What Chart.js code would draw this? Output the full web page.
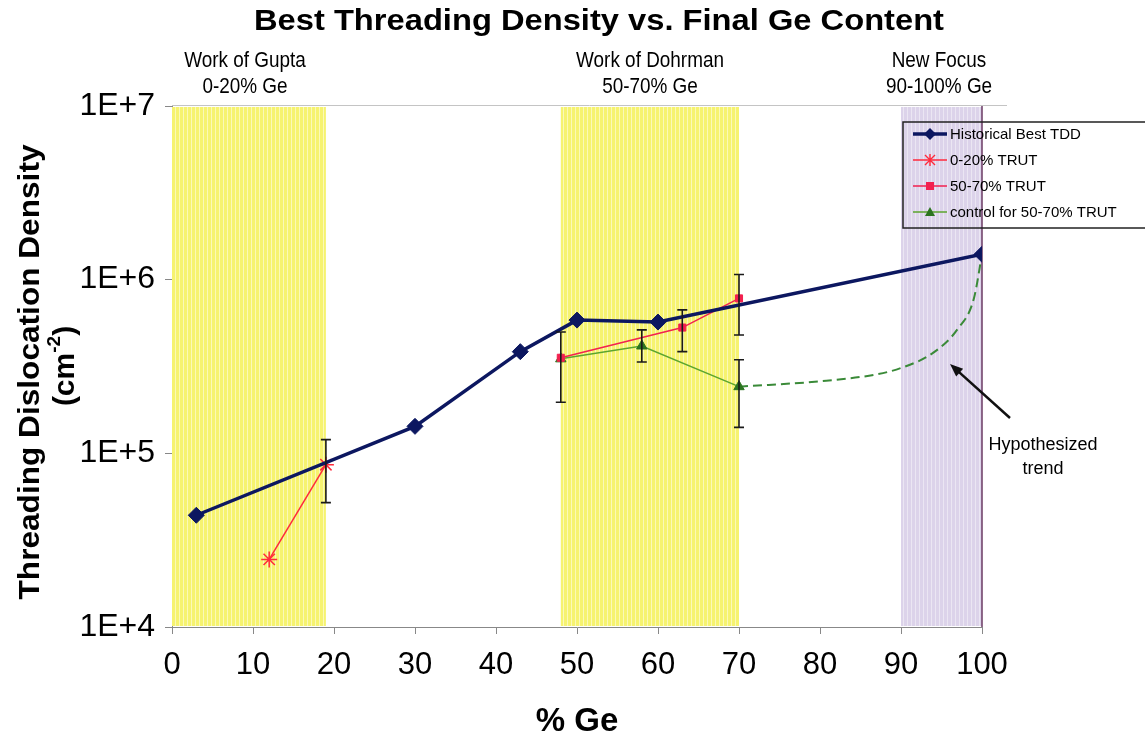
<!DOCTYPE html>
<html>
<head>
<meta charset="utf-8">
<script src="https://cdn.jsdelivr.net/npm/chart.js@4/dist/chart.umd.min.js"></script>
<style>
  html, body { margin: 0; padding: 0; background: #ffffff; }
  #wrap { width: 1145px; height: 740px; position: relative; }
</style>
</head>
<body>
<div id="wrap"><canvas id="c" width="1145" height="740"></canvas></div>
<script>
// ---- data ----
const histX = [3, 30, 43, 50, 60, 100];
const histY = [4.4e4, 1.43e5, 3.85e5, 5.85e5, 5.7e5, 1.4e6];

const trut020X = [12, 19];
const trut020Y = [2.45e4, 8.6e4];

const trut5070X = [48, 63, 70];
const trut5070Y = [3.55e5, 5.3e5, 7.8e5];

const controlX = [48, 58, 70];
const controlY = [3.5e5, 4.15e5, 2.42e5];

// hypothesized trend
const trendX = [70, 80, 87, 90, 94, 97, 99, 100];
const trendY = [2.42e5, 2.6e5, 2.85e5, 3.1e5, 3.8e5, 5.2e5, 7.8e5, 1.4e6];

// error bars: x, low, high
const errX = [19, 48, 58, 63, 70, 70];
const errLow = [5.2e4, 1.97e5, 3.36e5, 3.85e5, 4.8e5, 1.41e5];
const errHigh = [1.2e5, 5.0e5, 5.14e5, 6.7e5, 1.07e6, 3.46e5];

// shaded composition ranges
const bandStart = [0, 48, 90];
const bandEnd = [19, 70, 100];
const bandKind = ['yellow', 'yellow', 'purple'];
const bandTitle = ['Work of Gupta', 'Work of Dohrman', 'New Focus'];
const bandRange = ['0-20% Ge', '50-70% Ge', '90-100% Ge'];

const yTickValues = [1e4, 1e5, 1e6, 1e7];
const yTickLabels = ['1E+4', '1E+5', '1E+6', '1E+7'];

const legendLabels = ['Historical Best TDD', '0-20% TRUT', '50-70% TRUT', 'control for 50-70% TRUT'];

const FONT = '"Liberation Sans", Arial, sans-serif';
const NAVY = '#0c1760';
const RED = '#ff2a3c';
const PINK = '#f2204f';
const GREEN_LINE = '#5ba52e';
const GREEN_MARK = '#2c7420';
const GREEN_DASH = '#3a8a38';

function pts(xs, ys) { return xs.map((x, i) => ({ x: x, y: ys[i] })); }

function stripePattern(ctx, base, stripe) {
  const p = document.createElement('canvas');
  p.width = 4; p.height = 4;
  const g = p.getContext('2d');
  g.fillStyle = base; g.fillRect(0, 0, 4, 4);
  g.fillStyle = stripe; g.fillRect(3, 0, 1, 4);
  return ctx.createPattern(p, 'repeat');
}

// draw text centred at (0,0) of the current transform, stretched to a given width
function fitText(ctx, text, width) {
  const w = ctx.measureText(text).width;
  ctx.save();
  ctx.scale(width / w, 1);
  ctx.fillText(text, 0, 0);
  ctx.restore();
}

const bandsPlugin = {
  id: 'bands',
  beforeDatasetsDraw(chart) {
    const { ctx, chartArea: a, scales: { x } } = chart;
    ctx.save();
    const yellow = stripePattern(ctx, '#f6f370', '#fbf9b8');
    const purple = stripePattern(ctx, '#dcd3ea', '#ebe6f3');
    for (let i = 0; i < bandStart.length; i++) {
      const x0 = x.getPixelForValue(bandStart[i]);
      const x1 = x.getPixelForValue(bandEnd[i]);
      ctx.fillStyle = bandKind[i] === 'yellow' ? yellow : purple;
      ctx.fillRect(x0, a.top + 1, x1 - x0, a.bottom - a.top - 2);
    }
    // right edge of the last band
    const xr = x.getPixelForValue(bandEnd[2]);
    ctx.strokeStyle = '#6b3a63';
    ctx.lineWidth = 1.5;
    ctx.beginPath(); ctx.moveTo(xr, a.top); ctx.lineTo(xr, a.bottom); ctx.stroke();
    // faint top border
    ctx.strokeStyle = '#c4c4c4';
    ctx.lineWidth = 1;
    ctx.beginPath(); ctx.moveTo(a.left, a.top - 0.5); ctx.lineTo(xr + 25, a.top - 0.5); ctx.stroke();
    ctx.restore();
  }
};

const errorBarPlugin = {
  id: 'errbars',
  afterDatasetsDraw(chart) {
    const { ctx, scales: { x, y } } = chart;
    ctx.save();
    ctx.strokeStyle = '#1a1a1a';
    ctx.lineWidth = 1.6;
    for (let i = 0; i < errX.length; i++) {
      const px = x.getPixelForValue(errX[i]);
      const yl = y.getPixelForValue(errLow[i]);
      const yh = y.getPixelForValue(errHigh[i]);
      ctx.beginPath();
      ctx.moveTo(px, yl); ctx.lineTo(px, yh);
      ctx.moveTo(px - 5, yl); ctx.lineTo(px + 5, yl);
      ctx.moveTo(px - 5, yh); ctx.lineTo(px + 5, yh);
      ctx.stroke();
    }
    ctx.restore();
  }
};

function drawMarker(ctx, style, cx, cy, color) {
  ctx.save();
  ctx.fillStyle = color; ctx.strokeStyle = color;
  if (style === 'rectRot') {
    ctx.beginPath();
    ctx.moveTo(cx, cy - 6); ctx.lineTo(cx + 6, cy); ctx.lineTo(cx, cy + 6); ctx.lineTo(cx - 6, cy);
    ctx.closePath(); ctx.fill();
  } else if (style === 'star') {
    ctx.lineWidth = 1.4;
    ctx.beginPath();
    ctx.moveTo(cx - 5, cy - 5); ctx.lineTo(cx + 5, cy + 5);
    ctx.moveTo(cx + 5, cy - 5); ctx.lineTo(cx - 5, cy + 5);
    ctx.moveTo(cx, cy - 6); ctx.lineTo(cx, cy + 6);
    ctx.stroke();
  } else if (style === 'rect') {
    ctx.fillRect(cx - 4, cy - 4, 8, 8);
  } else if (style === 'triangle') {
    ctx.beginPath();
    ctx.moveTo(cx, cy - 5); ctx.lineTo(cx + 5, cy + 4); ctx.lineTo(cx - 5, cy + 4);
    ctx.closePath(); ctx.fill();
  }
  ctx.restore();
}

const textPlugin = {
  id: 'texts',
  afterDraw(chart) {
    const { ctx } = chart;
    ctx.save();
    ctx.fillStyle = '#000';
    ctx.textAlign = 'center';
    ctx.textBaseline = 'middle';

    // main title
    ctx.save();
    ctx.translate(599, 22);
    ctx.font = 'bold 30px ' + FONT;
    fitText(ctx, 'Best Threading Density vs. Final Ge Content', 690);
    ctx.restore();

    // band captions (slightly condensed)
    const capCenters = [245, 650, 939];
    ctx.font = '22px ' + FONT;
    for (let i = 0; i < bandTitle.length; i++) {
      ctx.save();
      ctx.translate(capCenters[i], 0);
      ctx.scale(0.86, 1);
      ctx.fillText(bandTitle[i], 0, 61);
      ctx.fillText(bandRange[i], 0, 87);
      ctx.restore();
    }

    // y axis title
    ctx.save();
    ctx.translate(31, 372);
    ctx.rotate(-Math.PI / 2);
    ctx.font = 'bold 30px ' + FONT;
    fitText(ctx, 'Threading Dislocation Density', 455);
    ctx.restore();
    ctx.save();
    ctx.translate(66, 366);
    ctx.rotate(-Math.PI / 2);
    ctx.font = 'bold 30px ' + FONT;
    ctx.textAlign = 'left';
    const w1 = ctx.measureText('(cm').width;
    ctx.font = 'bold 19px ' + FONT;
    const w2 = ctx.measureText('-2').width;
    ctx.font = 'bold 30px ' + FONT;
    const w3 = ctx.measureText(')').width;
    const sx = -(w1 + w2 + w3) / 2;
    ctx.fillText('(cm', sx, 0);
    ctx.font = 'bold 19px ' + FONT;
    ctx.fillText('-2', sx + w1, -11);
    ctx.font = 'bold 30px ' + FONT;
    ctx.fillText(')', sx + w1 + w2, 0);
    ctx.restore();

    // x axis title
    ctx.font = 'bold 33px ' + FONT;
    ctx.fillText('% Ge', 577, 722);

    // hypothesized trend note + arrow
    ctx.font = '18px ' + FONT;
    ctx.fillText('Hypothesized', 1043, 445);
    ctx.fillText('trend', 1043, 469);
    ctx.strokeStyle = '#111';
    ctx.lineWidth = 2.5;
    const ax0 = 1010, ay0 = 418, ax1 = 950, ay1 = 364;
    ctx.beginPath(); ctx.moveTo(ax0, ay0); ctx.lineTo(ax1 + 6, ay1 + 5.4); ctx.stroke();
    const ang = Math.atan2(ay1 - ay0, ax1 - ax0);
    ctx.fillStyle = '#111';
    ctx.beginPath();
    ctx.moveTo(ax1, ay1);
    ctx.lineTo(ax1 - 14 * Math.cos(ang - 0.38), ay1 - 14 * Math.sin(ang - 0.38));
    ctx.lineTo(ax1 - 14 * Math.cos(ang + 0.38), ay1 - 14 * Math.sin(ang + 0.38));
    ctx.closePath(); ctx.fill();

    // legend
    const lx = 903, ly = 122, lw = 260, lh = 106;
    ctx.strokeStyle = '#222';
    ctx.lineWidth = 1.5;
    ctx.strokeRect(lx, ly, lw, lh);
    const ds = chart.data.datasets;
    ctx.textAlign = 'left';
    ctx.font = '15px ' + FONT;
    [0, 1, 2, 3].forEach((di, r) => {
      const d = ds[di];
      const yy = ly + 12 + r * 26;
      ctx.strokeStyle = d.borderColor;
      ctx.lineWidth = d.borderWidth;
      ctx.beginPath(); ctx.moveTo(lx + 10, yy); ctx.lineTo(lx + 44, yy); ctx.stroke();
      drawMarker(ctx, d.pointStyle, lx + 27, yy, d.pointBackgroundColor);
      ctx.fillStyle = '#000';
      ctx.fillText(legendLabels[r], lx + 47, yy + 1);
    });
    ctx.restore();
  }
};

const chart = new Chart(document.getElementById('c'), {
  type: 'line',
  data: {
    datasets: [
      {
        label: legendLabels[0],
        data: pts(histX, histY),
        borderColor: NAVY, backgroundColor: NAVY,
        pointBackgroundColor: NAVY, pointBorderColor: NAVY,
        borderWidth: 3.5, pointStyle: 'rectRot', pointRadius: 8, pointBorderWidth: 1,
        order: 1
      },
      {
        label: legendLabels[1],
        data: pts(trut020X, trut020Y),
        borderColor: RED, backgroundColor: RED,
        pointBackgroundColor: RED, pointBorderColor: RED,
        borderWidth: 1.5, pointStyle: 'star', pointRadius: 8, pointBorderWidth: 1.5,
        order: 2
      },
      {
        label: legendLabels[2],
        data: pts(trut5070X, trut5070Y),
        borderColor: PINK, backgroundColor: PINK,
        pointBackgroundColor: PINK, pointBorderColor: PINK,
        borderWidth: 1.5, pointStyle: 'rect', pointRadius: 5, pointBorderWidth: 1,
        order: 3
      },
      {
        label: legendLabels[3],
        data: pts(controlX, controlY),
        borderColor: GREEN_LINE, backgroundColor: GREEN_MARK,
        pointBackgroundColor: GREEN_MARK, pointBorderColor: GREEN_MARK,
        borderWidth: 1.5, pointStyle: 'triangle', pointRadius: 6, pointBorderWidth: 1,
        order: 4
      },
      {
        label: 'Hypothesized trend',
        data: pts(trendX, trendY),
        borderColor: GREEN_DASH,
        borderWidth: 2, borderDash: [9, 5],
        pointRadius: 0, cubicInterpolationMode: 'monotone',
        order: 5
      }
    ]
  },
  options: {
    responsive: false,
    animation: false,
    devicePixelRatio: 1,
    layout: { padding: { left: 0, right: 163, top: 106, bottom: 0 } },
    plugins: { legend: { display: false }, title: { display: false }, tooltip: { enabled: false } },
    scales: {
      x: {
        type: 'linear', min: 0, max: 100,
        afterFit(s) { s.height = 113; },
        ticks: { stepSize: 10, color: '#000', padding: 13, font: { family: FONT, size: 31 } },
        grid: { drawOnChartArea: false, drawTicks: true, tickLength: 7, color: '#888' },
        border: { display: true, color: '#888', width: 1 }
      },
      y: {
        type: 'logarithmic', min: 1e4, max: 1e7,
        afterFit(s) { s.width = 172; },
        afterBuildTicks(s) { s.ticks = yTickValues.map(v => ({ value: v })); },
        ticks: {
          color: '#000', padding: 10, font: { family: FONT, size: 32 },
          callback(v) { const i = yTickValues.indexOf(v); return i >= 0 ? yTickLabels[i] : ''; }
        },
        grid: { drawOnChartArea: false, drawTicks: true, tickLength: 7, color: '#888' },
        border: { display: true, color: '#888', width: 1 }
      }
    }
  },
  plugins: [bandsPlugin, errorBarPlugin, textPlugin]
});
</script>
</body>
</html>
